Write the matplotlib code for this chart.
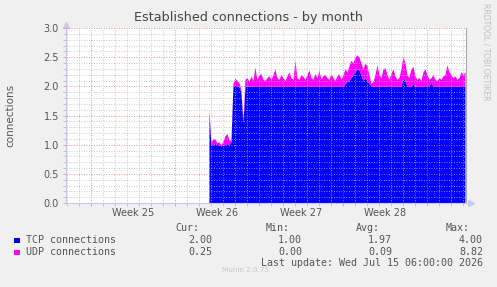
import numpy as np
import matplotlib
matplotlib.use('Agg')
import matplotlib.pyplot as plt
from matplotlib.patches import Rectangle

title = 'Established connections - by month'
ylabel = 'connections'
week_labels = ['Week 25', 'Week 26', 'Week 27', 'Week 28']
week_starts = [0, 7, 14, 21, 28]      # days since Mon Jun 15 2026
x_limits = (-2.08, 31.25)
t_first = 9.83                        # first sample, in days
t_step = 1 / 6                        # 4 hour samples

tcp = [1.55,
       1.00, 1.00, 1.02, 1.00, 1.00, 0.98, 1.00, 1.00, 1.02, 1.00, 1.05,
       2.00, 2.02, 2.00, 2.00, 1.90, 1.38, 2.00,
       2.00, 2.00, 2.00, 2.00, 2.00, 2.00, 2.00, 2.00, 2.00, 2.00,
       2.00, 2.00, 2.00, 2.00, 2.00, 2.00, 2.00, 2.00, 2.00, 2.00,
       2.00, 2.00, 2.00, 2.00, 2.00, 2.00, 2.00, 2.00, 2.00, 2.00,
       2.00, 2.00, 2.00, 2.00, 2.00, 2.00, 2.00, 2.00, 2.00, 2.00,
       2.00, 2.00, 2.00, 2.00, 2.00, 2.00, 2.00, 2.00, 2.00,
       2.05, 2.08, 2.10, 2.15, 2.20, 2.25, 2.30, 2.28, 2.20, 2.10, 2.15, 2.10, 2.05,
       2.00, 2.00, 2.00, 2.00, 2.00, 2.00, 2.00, 2.00,
       2.00, 2.00, 2.00, 2.00, 2.00, 2.00, 2.00, 2.00,
       2.15, 2.10,
       2.00, 2.00, 2.00,
       2.05,
       2.00, 2.00, 2.00, 2.00, 2.00, 2.00, 2.00, 2.00,
       2.08,
       2.00, 2.00, 2.00, 2.00, 2.00, 2.00, 2.00, 2.00, 2.00,
       2.00, 2.00, 2.00, 2.00, 2.00, 2.00, 2.00, 2.00]

udp = [0.05,
       0.05, 0.10, 0.08, 0.03, 0.05, 0.02, 0.06, 0.15, 0.17, 0.08, 0.03,
       0.05, 0.12, 0.10, 0.06, 0.05, 0.06, 0.12,
       0.15, 0.08, 0.18, 0.10, 0.33, 0.12, 0.20, 0.22, 0.12, 0.10,
       0.15, 0.18, 0.12, 0.20, 0.30, 0.15, 0.12, 0.20, 0.15, 0.10,
       0.18, 0.25, 0.15, 0.12, 0.45, 0.15, 0.12, 0.20, 0.17, 0.12,
       0.20, 0.28, 0.15, 0.12, 0.22, 0.15, 0.28, 0.12, 0.18, 0.20,
       0.15, 0.12, 0.22, 0.15, 0.10, 0.18, 0.22, 0.12, 0.20,
       0.25, 0.17, 0.25, 0.30, 0.20, 0.25, 0.24, 0.22, 0.20, 0.20, 0.25, 0.25, 0.15,
       0.05, 0.08, 0.20, 0.37, 0.20, 0.15, 0.30, 0.32,
       0.20, 0.12, 0.22, 0.30, 0.18, 0.12, 0.15, 0.30,
       0.36, 0.30,
       0.20, 0.15, 0.30,
       0.29,
       0.18, 0.12, 0.15, 0.10, 0.25, 0.30, 0.20, 0.12,
       0.07,
       0.20, 0.12, 0.10, 0.15, 0.12, 0.18, 0.20, 0.37, 0.25,
       0.20, 0.15, 0.18, 0.12, 0.15, 0.25, 0.20, 0.25]

series_names = ['TCP connections', 'UDP connections']
series_colors = ['#0000ff', '#ff00ff']
stat_headers = ['Cur:', 'Min:', 'Avg:', 'Max:']
stats = [['2.00', '1.00', '1.97', '4.00'],
         ['0.25', '0.00', '0.09', '8.82']]
last_update = 'Last update: Wed Jul 15 06:00:00 2026'

W, H = 497, 287
fig = plt.figure(figsize=(W / 100, H / 100), dpi=100)
fig.patch.set_facecolor('#f0f0f0')


def fx(px):
    return px / W


def fy(py):
    return 1 - py / H


ax = fig.add_axes([fx(66), fy(203), fx(466) - fx(66), fy(28) - fy(203)])
ax.set_facecolor('white')

tcp = np.array(tcp)
udp = np.array(udp)
t = t_first + t_step * np.arange(len(tcp))

ax.fill_between(t, 0, tcp, color=series_colors[0], lw=0, zorder=1)
ax.fill_between(t, tcp, tcp + udp, color=series_colors[1], lw=0, zorder=1)

ax.set_xlim(*x_limits)
ax.set_ylim(0, 3.0)

# grid: minor gray dotted, major red dotted, drawn over the data
ax.set_axisbelow(False)
ax.set_yticks(np.arange(0, 3.01, 0.5))
ax.set_yticks(np.arange(0, 3.01, 0.1), minor=True)
ax.set_xticks(week_starts)
ax.set_xticks(np.arange(-2, 32, 1), minor=True)
ax.set_xticklabels([''] * len(week_starts))
ax.set_yticklabels(['%.1f' % v for v in np.arange(0, 3.01, 0.5)])
ax.grid(which='minor', color=(0.72, 0.72, 0.72, 0.55), linestyle=(0, (1, 2)), lw=0.6)
ax.grid(which='major', color=(0.9, 0.45, 0.45, 0.65), linestyle=(0, (1, 2)), lw=0.6)

ax.tick_params(axis='both', which='both', length=2, width=0.6, color='#bbbbbb',
               labelsize=7, labelcolor='#555555', pad=3)
ax.tick_params(axis='y', which='major', color=(0.92, 0.6, 0.6))
ax.tick_params(axis='x', which='major', color=(0.92, 0.6, 0.6))

ax.spines['top'].set_visible(False)
ax.spines['right'].set_color('#a8a8a8')
ax.spines['right'].set_linewidth(0.8)
for s in ['left', 'bottom']:
    ax.spines[s].set_color('#c8c8f0')
    ax.spines[s].set_linewidth(0.8)

# arrows at the ends of the axes
ax.plot([0], [1.015], marker='^', markersize=4, color='#c8c8f0', lw=0,
        transform=ax.transAxes, clip_on=False)
ax.plot([1.012], [0], marker='>', markersize=4, color='#c8c8f0', lw=0,
        transform=ax.transAxes, clip_on=False)

for i, lab in enumerate(week_labels):
    mid = (week_starts[i] + week_starts[i + 1]) / 2
    ax.text(mid, -0.058, lab, transform=ax.get_xaxis_transform(),
            ha='center', va='center', fontsize=7, color='#555555')

fig.text(fx(249), fy(18), title, ha='center', va='center', fontsize=9.2, color='#444444')
fig.text(fx(10), fy(115), ylabel, rotation=90, ha='center', va='center',
         fontsize=7.5, color='#555555')
fig.text(fx(486), fy(52), 'RRDTOOL / TOBI OETIKER', rotation=270, ha='center',
         va='center', fontsize=5.5, color='#c0c0c0')

# legend block
mono = 'DejaVu Sans Mono'
fs = 7.2
head_right = [199, 290, 380, 470]
col_right = [212, 302, 392, 483]
for h, xr in zip(stat_headers, head_right):
    fig.text(fx(xr), fy(228), h, ha='right', va='center', family=mono,
             fontsize=fs, color='#555555')
for r, (name, color, row) in enumerate(zip(series_names, series_colors, stats)):
    yy = 240 + 12 * r
    fig.patches.append(Rectangle((fx(14), fy(yy + 3)), fx(5.5), 5.5 / H,
                                 transform=fig.transFigure, facecolor=color,
                                 edgecolor='none'))
    fig.text(fx(26), fy(yy), name, ha='left', va='center', family=mono,
             fontsize=fs, color='#555555')
    for v, xr in zip(row, col_right):
        fig.text(fx(xr), fy(yy), v, ha='right', va='center', family=mono,
                 fontsize=fs, color='#555555')
fig.text(fx(483), fy(263), last_update, ha='right', va='center', family=mono,
         fontsize=fs, color='#555555')
fig.text(fx(246), fy(270), 'Munin 2.0.75', ha='center', va='center',
         fontsize=5.2, color='#c8c8c8')

fig.savefig('out.png', dpi=100, facecolor=fig.get_facecolor())
